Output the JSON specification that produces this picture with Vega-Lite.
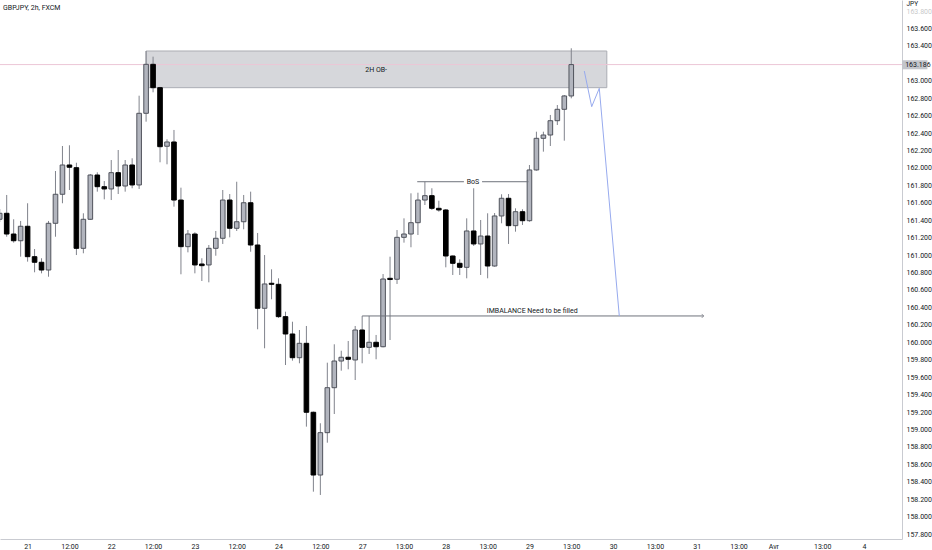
{
  "$schema": "https://vega.github.io/schema/vega-lite/v6.json",
  "width": 902,
  "height": 539,
  "autosize": {"type": "none"},
  "padding": {"left": 0, "top": 0, "right": 30, "bottom": 11},
  "background": "#ffffff",
  "title": {"text": "GBPJPY, 2h, FXCM", "anchor": "start", "frame": "group", "offset": -11, "dx": 3, "fontSize": 7, "fontWeight": "normal", "color": "#131722", "font": "Roboto"},
  "config": {
    "view": {"stroke": null},
    "font": "Roboto",
    "axisY": {"labelOverlap": false, "labelFlush": false, "labelBound": false},
    "axisX": {"labelOverlap": false, "labelFlush": false}
  },
  "datasets": {
    "candles": [
      {"i":0,"o":161.411,"h":161.529,"l":161.380,"c":161.480},
      {"i":1,"o":161.480,"h":161.690,"l":161.211,"c":161.242},
      {"i":2,"o":161.242,"h":161.411,"l":161.143,"c":161.165},
      {"i":3,"o":161.165,"h":161.392,"l":160.982,"c":161.331},
      {"i":4,"o":161.331,"h":161.595,"l":160.925,"c":160.982},
      {"i":5,"o":160.982,"h":161.070,"l":160.803,"c":160.918},
      {"i":6,"o":160.918,"h":160.964,"l":160.791,"c":160.829},
      {"i":7,"o":160.829,"h":161.392,"l":160.752,"c":161.365},
      {"i":8,"o":161.365,"h":161.965,"l":161.211,"c":161.698},
      {"i":9,"o":161.698,"h":162.252,"l":161.595,"c":162.034},
      {"i":10,"o":162.034,"h":162.260,"l":161.747,"c":162.008},
      {"i":11,"o":162.003,"h":162.060,"l":161.001,"c":161.078},
      {"i":12,"o":161.078,"h":161.480,"l":161.021,"c":161.411},
      {"i":13,"o":161.411,"h":161.931,"l":161.403,"c":161.919},
      {"i":14,"o":161.919,"h":161.950,"l":161.728,"c":161.785},
      {"i":15,"o":161.785,"h":161.850,"l":161.640,"c":161.759},
      {"i":16,"o":161.759,"h":162.091,"l":161.632,"c":161.946},
      {"i":17,"o":161.946,"h":162.206,"l":161.701,"c":161.793},
      {"i":18,"o":161.793,"h":162.091,"l":161.728,"c":162.034},
      {"i":19,"o":162.034,"h":162.111,"l":161.767,"c":161.805},
      {"i":20,"o":161.805,"h":162.829,"l":161.759,"c":162.627},
      {"i":21,"o":162.627,"h":163.342,"l":162.531,"c":163.189},
      {"i":22,"o":163.189,"h":163.277,"l":162.868,"c":162.921},
      {"i":23,"o":162.921,"h":162.930,"l":162.065,"c":162.244},
      {"i":24,"o":162.249,"h":162.329,"l":162.042,"c":162.298},
      {"i":25,"o":162.298,"h":162.436,"l":161.556,"c":161.632},
      {"i":26,"o":161.632,"h":161.774,"l":160.780,"c":161.097},
      {"i":27,"o":161.097,"h":161.288,"l":161.032,"c":161.242},
      {"i":28,"o":161.242,"h":161.262,"l":160.791,"c":160.887},
      {"i":29,"o":160.898,"h":160.964,"l":160.703,"c":160.879},
      {"i":30,"o":160.887,"h":161.116,"l":160.688,"c":161.078},
      {"i":31,"o":161.078,"h":161.277,"l":160.993,"c":161.193},
      {"i":32,"o":161.193,"h":161.747,"l":161.128,"c":161.632},
      {"i":33,"o":161.632,"h":161.701,"l":161.204,"c":161.308},
      {"i":34,"o":161.308,"h":161.842,"l":161.277,"c":161.383},
      {"i":35,"o":161.383,"h":161.690,"l":161.296,"c":161.601},
      {"i":36,"o":161.601,"h":161.728,"l":161.039,"c":161.116},
      {"i":37,"o":161.116,"h":161.254,"l":160.149,"c":160.390},
      {"i":38,"o":160.390,"h":161.001,"l":159.931,"c":160.669},
      {"i":39,"o":160.677,"h":160.837,"l":160.493,"c":160.665},
      {"i":40,"o":160.665,"h":160.734,"l":160.279,"c":160.294},
      {"i":41,"o":160.294,"h":160.351,"l":159.739,"c":160.095},
      {"i":42,"o":160.095,"h":160.236,"l":159.789,"c":159.823},
      {"i":43,"o":159.823,"h":160.141,"l":159.759,"c":159.988},
      {"i":44,"o":159.988,"h":160.187,"l":159.032,"c":159.197},
      {"i":45,"o":159.197,"h":159.205,"l":158.286,"c":158.477},
      {"i":46,"o":158.477,"h":159.071,"l":158.248,"c":158.963},
      {"i":47,"o":158.963,"h":159.766,"l":158.848,"c":159.479},
      {"i":48,"o":159.479,"h":159.977,"l":159.177,"c":159.785},
      {"i":49,"o":159.785,"h":159.903,"l":159.674,"c":159.828},
      {"i":50,"o":159.828,"h":160.015,"l":159.690,"c":159.805},
      {"i":51,"o":159.797,"h":160.187,"l":159.567,"c":160.141},
      {"i":52,"o":160.141,"h":160.302,"l":159.759,"c":159.942},
      {"i":53,"o":159.942,"h":160.302,"l":159.866,"c":160.000},
      {"i":54,"o":160.000,"h":160.084,"l":159.805,"c":159.949},
      {"i":55,"o":159.949,"h":160.783,"l":159.942,"c":160.726},
      {"i":56,"o":160.734,"h":160.982,"l":160.026,"c":160.720},
      {"i":57,"o":160.723,"h":161.288,"l":160.669,"c":161.204},
      {"i":58,"o":161.204,"h":161.422,"l":161.143,"c":161.242},
      {"i":59,"o":161.242,"h":161.709,"l":161.090,"c":161.372},
      {"i":60,"o":161.372,"h":161.716,"l":161.231,"c":161.632},
      {"i":61,"o":161.632,"h":161.842,"l":161.575,"c":161.682},
      {"i":62,"o":161.682,"h":161.767,"l":161.518,"c":161.537},
      {"i":63,"o":161.537,"h":161.624,"l":161.498,"c":161.518},
      {"i":64,"o":161.518,"h":161.529,"l":160.860,"c":160.990},
      {"i":65,"o":160.990,"h":160.995,"l":160.772,"c":160.906},
      {"i":66,"o":160.906,"h":160.952,"l":160.772,"c":160.860},
      {"i":67,"o":160.860,"h":161.422,"l":160.734,"c":161.277},
      {"i":68,"o":161.277,"h":161.767,"l":161.105,"c":161.128},
      {"i":69,"o":161.128,"h":161.403,"l":160.772,"c":161.219},
      {"i":70,"o":161.219,"h":161.480,"l":160.734,"c":160.875},
      {"i":71,"o":160.875,"h":161.483,"l":160.867,"c":161.449},
      {"i":72,"o":161.449,"h":161.698,"l":161.365,"c":161.652},
      {"i":73,"o":161.652,"h":161.701,"l":161.128,"c":161.338},
      {"i":74,"o":161.338,"h":161.537,"l":161.269,"c":161.498},
      {"i":75,"o":161.498,"h":161.526,"l":161.346,"c":161.395},
      {"i":76,"o":161.395,"h":162.034,"l":161.383,"c":161.977},
      {"i":77,"o":161.977,"h":162.416,"l":161.969,"c":162.340},
      {"i":78,"o":162.340,"h":162.416,"l":162.187,"c":162.378},
      {"i":79,"o":162.378,"h":162.608,"l":162.252,"c":162.542},
      {"i":80,"o":162.542,"h":162.722,"l":162.493,"c":162.673},
      {"i":81,"o":162.673,"h":162.837,"l":162.313,"c":162.826},
      {"i":82,"o":162.826,"h":163.373,"l":162.799,"c":163.186}
    ],
    "zones": [{"x1": 21, "x2": 87.1, "p1": 163.342, "p2": 162.921}],
    "segs": [
      {"x1": 59.9, "x2": 66.6, "p": 161.842},
      {"x1": 69.2, "x2": 75.85, "p": 161.842},
      {"x1": 52, "x2": 101, "p": 160.302}
    ],
    "arrows": [{"x": 101, "p": 160.302}],
    "notes": [
      {"t": "2H OB-", "x": 54, "p": 163.124},
      {"t": "BoS", "x": 67.9, "p": 161.842},
      {"t": "IMBALANCE Need to be filled", "x": 76.4, "p": 160.362}
    ],
    "path": [
      {"ord": 1, "x": 83.87, "p": 163.112},
      {"ord": 2, "x": 84.93, "p": 162.703},
      {"ord": 3, "x": 86.02, "p": 162.914},
      {"ord": 4, "x": 88.89, "p": 160.302}
    ],
    "last": [{"p": 163.186, "x1": 129.45, "x2": 133.1, "tx": 129.9, "p1": 163.236, "p2": 163.132}]
  },
  "layer": [
    {
      "data": {"name": "zones"},
      "mark": {"type": "rect", "fill": "#d6d7db", "stroke": "#abadb4", "strokeWidth": 1},
      "encoding": {
        "x": {"field": "x1", "type": "quantitative", "scale": {"domain": [0.04, 129.45], "nice": false, "zero": false, "padding": 0},
          "axis": {"values": [4,10,16,22,28,34,40,46,52,58,64,70,76,82,88,94,100,106,111,118,124], "tickCount": 40,
            "labelExpr": "['21','12:00','22','12:00','23','12:00','24','12:00','27','13:00','28','13:00','29','13:00','30','13:00','31','13:00','Avr','13:00','4'][indexof([4,10,16,22,28,34,40,46,52,58,64,70,76,82,88,94,100,106,111,118,124], datum.value)]",
            "title": null, "grid": false, "ticks": false, "domainColor": "#c9cbd1", "labelFontSize": 7, "labelColor": "#131722", "labelPadding": 3, "labelFlush": false, "labelOverlap": false, "labelFont": "Roboto"}},
        "x2": {"field": "x2"},
        "y": {"field": "p1", "type": "quantitative", "scale": {"domain": [157.743, 163.927], "nice": false, "zero": false, "padding": 0},
          "axis": {"orient": "right", "tickCount": 40, "values": [157.8,158,158.2,158.4,158.6,158.8,159,159.2,159.4,159.6,159.8,160,160.2,160.4,160.6,160.8,161,161.2,161.4,161.6,161.8,162,162.2,162.4,162.6,162.8,163,163.4,163.6,163.8],
            "format": ".3f", "grid": false, "ticks": false, "domainColor": "#c9cbd1", "labelFontSize": 7, "labelColor": "#131722", "labelPadding": 4, "labelAlign": "left", "labelOverlap": false, "labelFlush": false, "labelFont": "Roboto",
            "labelOpacity": {"condition": {"test": "datum.value > 163.7", "value": 0.25}, "value": 1},
            "title": "JPY", "titleAngle": 0, "titleX": 4, "titleY": 3, "titleAlign": "left", "titleBaseline": "middle", "titleFontSize": 6.5, "titleFontWeight": "normal", "titleColor": "#131722", "titleFont": "Roboto"}},
        "y2": {"field": "p2"}
      }
    },
    {
      "data": {"name": "last"},
      "mark": {"type": "rule", "color": "#ecc6d6", "strokeWidth": 1},
      "encoding": {
        "y": {"field": "p", "type": "quantitative", "scale": {"domain": [157.743, 163.927], "nice": false, "zero": false, "padding": 0}}
      }
    },
    {
      "data": {"name": "candles"},
      "mark": {"type": "rule", "color": "#80838c", "strokeWidth": 1},
      "encoding": {
        "x": {"field": "i", "type": "quantitative", "scale": {"domain": [0.04, 129.45], "nice": false, "zero": false, "padding": 0}},
        "y": {"field": "l", "type": "quantitative", "scale": {"domain": [157.743, 163.927], "nice": false, "zero": false, "padding": 0}},
        "y2": {"field": "h"}
      }
    },
    {
      "data": {"name": "candles"},
      "mark": {"type": "bar", "size": 4.6, "strokeWidth": 1},
      "encoding": {
        "x": {"field": "i", "type": "quantitative", "scale": {"domain": [0.04, 129.45], "nice": false, "zero": false, "padding": 0}},
        "y": {"field": "o", "type": "quantitative", "scale": {"domain": [157.743, 163.927], "nice": false, "zero": false, "padding": 0}},
        "y2": {"field": "c"},
        "fill": {"condition": {"test": "datum.c > datum.o", "value": "#b2b5be"}, "value": "#000000"},
        "stroke": {"condition": {"test": "datum.c > datum.o", "value": "#50535c"}, "value": "#000000"}
      }
    },
    {
      "data": {"name": "segs"},
      "mark": {"type": "rule", "color": "#6f727c", "strokeWidth": 1},
      "encoding": {
        "x": {"field": "x1", "type": "quantitative", "scale": {"domain": [0.04, 129.45], "nice": false, "zero": false, "padding": 0}},
        "x2": {"field": "x2"},
        "y": {"field": "p", "type": "quantitative", "scale": {"domain": [157.743, 163.927], "nice": false, "zero": false, "padding": 0}}
      }
    },
    {
      "data": {"name": "arrows"},
      "mark": {"type": "point", "shape": "M -1 -1 L 0 0 L -1 1", "filled": false, "stroke": "#6f727c", "strokeWidth": 1, "size": 16},
      "encoding": {
        "x": {"field": "x", "type": "quantitative", "scale": {"domain": [0.04, 129.45], "nice": false, "zero": false, "padding": 0}},
        "y": {"field": "p", "type": "quantitative", "scale": {"domain": [157.743, 163.927], "nice": false, "zero": false, "padding": 0}}
      }
    },
    {
      "data": {"name": "notes"},
      "mark": {"type": "text", "fontSize": 7, "color": "#131722", "baseline": "middle", "align": "center", "font": "Roboto"},
      "encoding": {
        "x": {"field": "x", "type": "quantitative", "scale": {"domain": [0.04, 129.45], "nice": false, "zero": false, "padding": 0}},
        "y": {"field": "p", "type": "quantitative", "scale": {"domain": [157.743, 163.927], "nice": false, "zero": false, "padding": 0}},
        "text": {"field": "t"}
      }
    },
    {
      "data": {"name": "path"},
      "mark": {"type": "line", "color": "#97aaee", "strokeWidth": 1},
      "encoding": {
        "x": {"field": "x", "type": "quantitative", "scale": {"domain": [0.04, 129.45], "nice": false, "zero": false, "padding": 0}},
        "y": {"field": "p", "type": "quantitative", "scale": {"domain": [157.743, 163.927], "nice": false, "zero": false, "padding": 0}},
        "order": {"field": "ord"}
      }
    },
    {
      "data": {"name": "last"},
      "mark": {"type": "rect", "fill": "#c3c5cb", "clip": false},
      "encoding": {
        "x": {"field": "x1", "type": "quantitative", "scale": {"domain": [0.04, 129.45], "nice": false, "zero": false, "padding": 0}},
        "x2": {"field": "x2"},
        "y": {"field": "p1", "type": "quantitative", "scale": {"domain": [157.743, 163.927], "nice": false, "zero": false, "padding": 0}},
        "y2": {"field": "p2"}
      }
    },
    {
      "data": {"name": "last"},
      "mark": {"type": "text", "fontSize": 7, "color": "#131722", "baseline": "middle", "align": "left", "font": "Roboto", "clip": false},
      "encoding": {
        "x": {"field": "tx", "type": "quantitative", "scale": {"domain": [0.04, 129.45], "nice": false, "zero": false, "padding": 0}},
        "y": {"field": "p", "type": "quantitative", "scale": {"domain": [157.743, 163.927], "nice": false, "zero": false, "padding": 0}},
        "text": {"field": "p", "format": ".3f"}
      }
    }
  ]
}
